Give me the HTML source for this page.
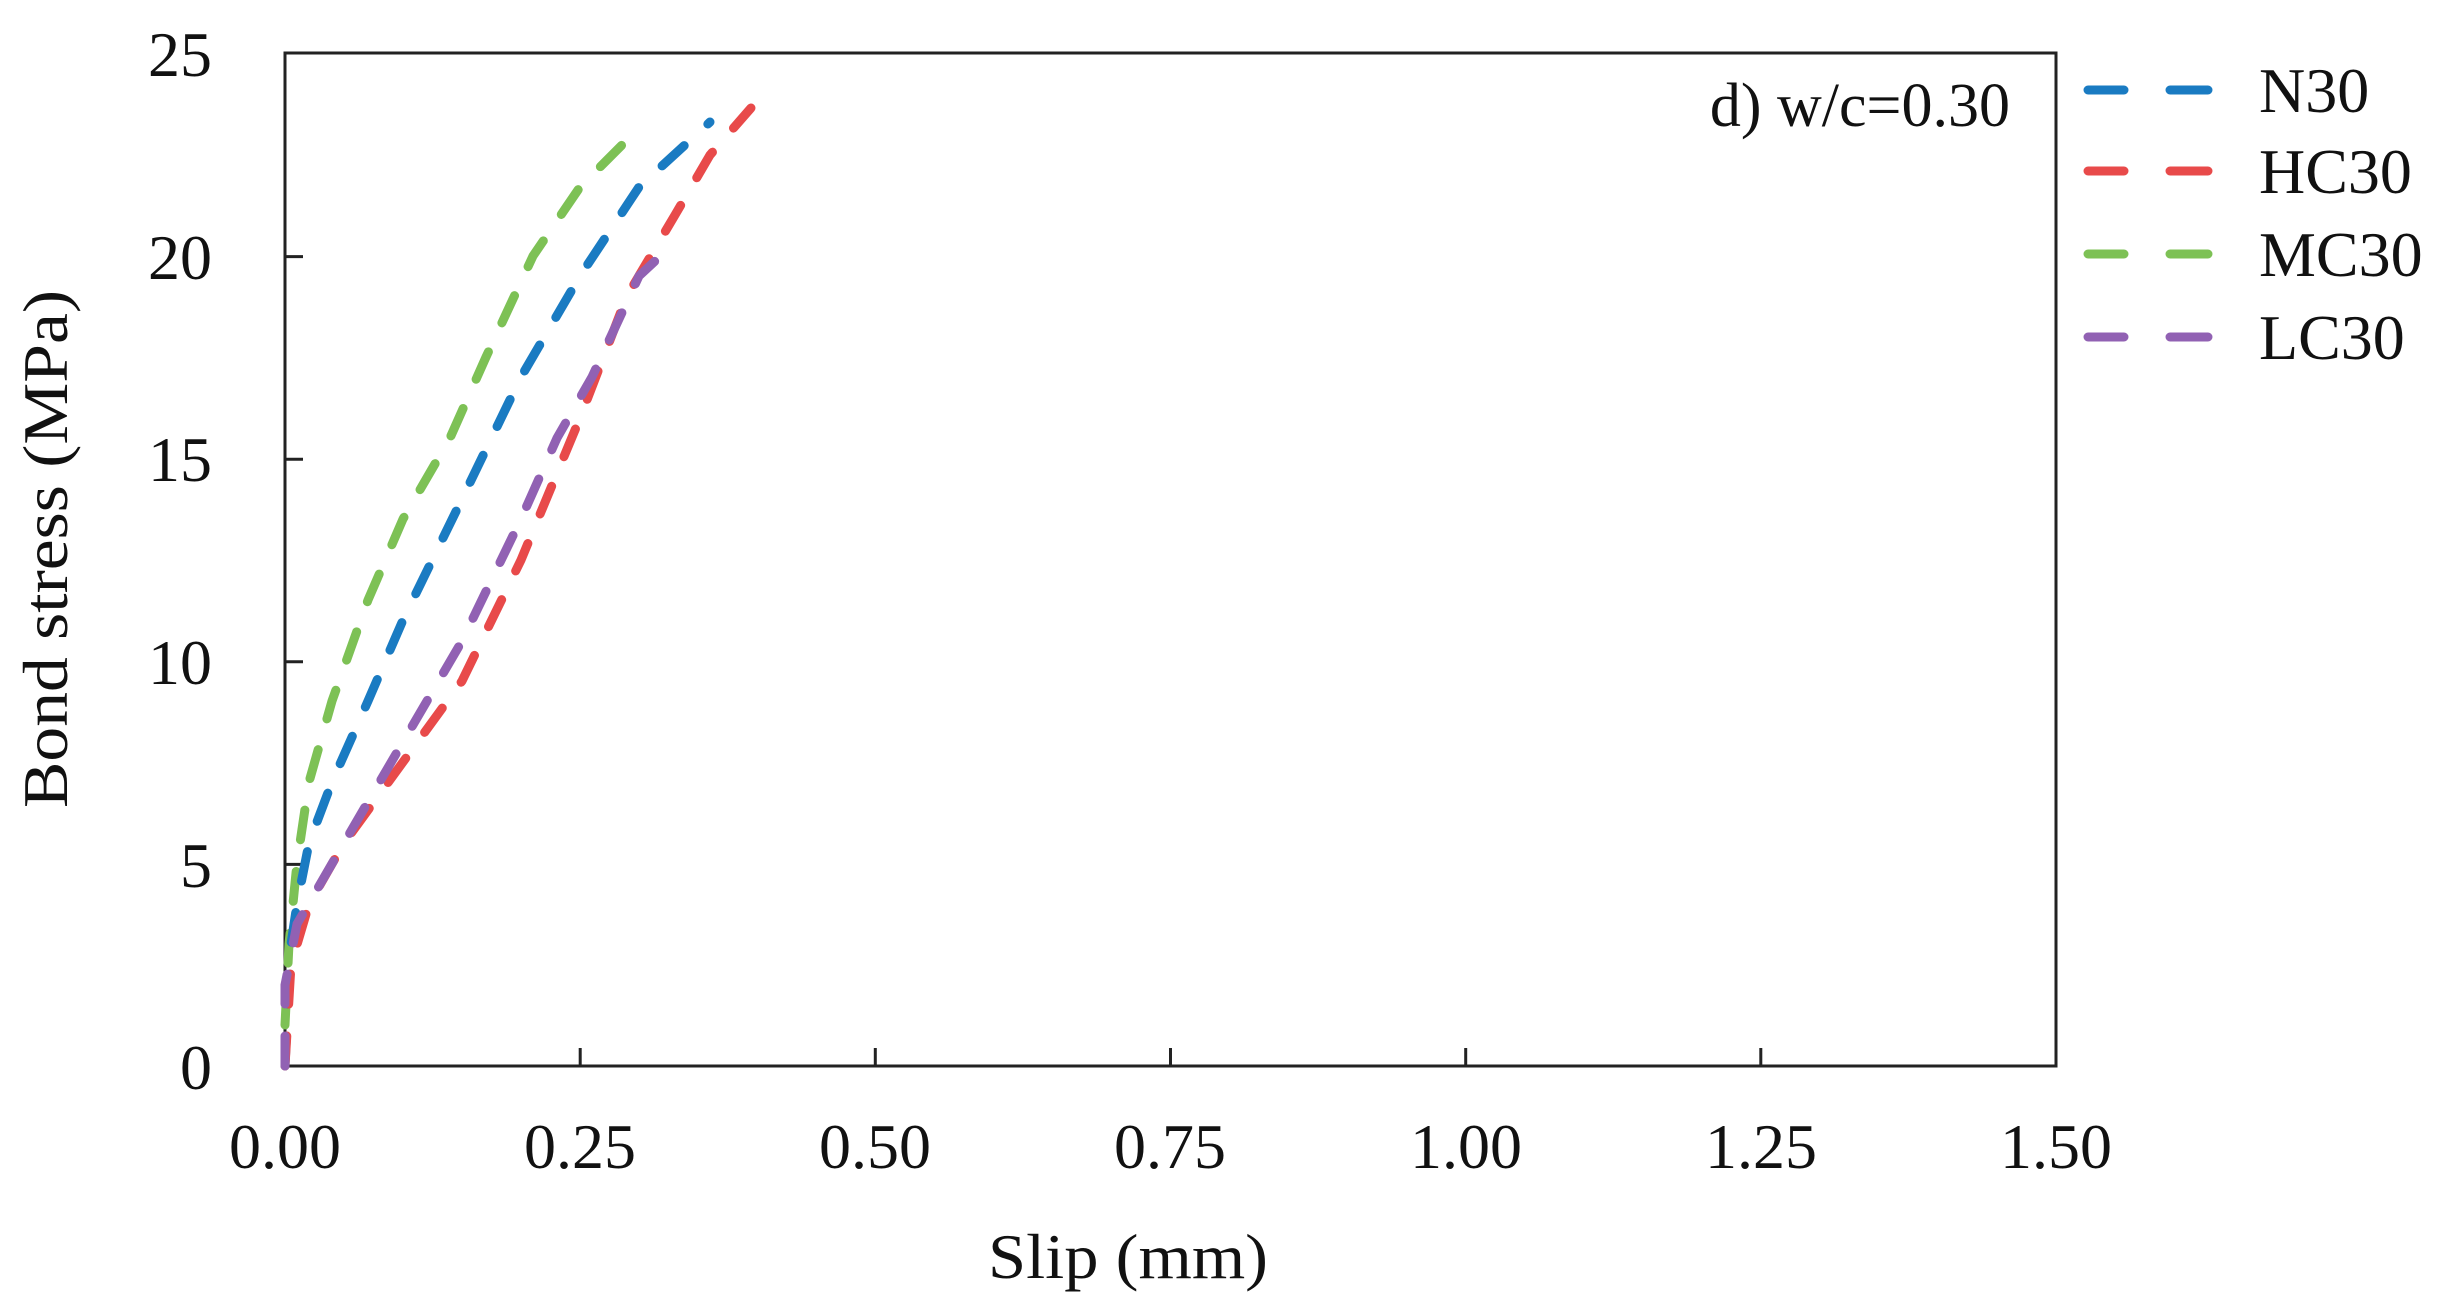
<!DOCTYPE html>
<html><head><meta charset="utf-8"><style>html,body{margin:0;padding:0;background:#fff}svg text{font-family:"Liberation Serif","Times New Roman",serif}</style></head>
<body>
<svg width="2443" height="1305" viewBox="0 0 2443 1305" xmlns="http://www.w3.org/2000/svg">
<rect width="2443" height="1305" fill="#fff"/>
<g stroke="#222" stroke-width="3" fill="none">
<rect x="285" y="53" width="1771" height="1013"/>
<path d="M285 256.6h18M285 459.2h18M285 661.8h18M285 864.4h18"/>
<path d="M580.2 1066v-18M875.3 1066v-18M1170.5 1066v-18M1465.7 1066v-18M1760.8 1066v-18"/>
</g>
<g font-size="64" fill="#111" text-anchor="end">
<text x="212" y="76">25</text><text x="212" y="279">20</text><text x="212" y="481">15</text>
<text x="212" y="684">10</text><text x="212" y="887">5</text><text x="212" y="1089">0</text>
</g>
<g font-size="64" fill="#111" text-anchor="middle">
<text x="285" y="1168">0.00</text><text x="580" y="1168">0.25</text><text x="875" y="1168">0.50</text>
<text x="1170" y="1168">0.75</text><text x="1466" y="1168">1.00</text><text x="1761" y="1168">1.25</text><text x="2056" y="1168">1.50</text>
<text x="1128" y="1278" textLength="280" lengthAdjust="spacingAndGlyphs">Slip (mm)</text>
<text transform="translate(67,549) rotate(-90)" textLength="518" lengthAdjust="spacingAndGlyphs">Bond stress (MPa)</text>
</g>
<text x="2010" y="126" font-size="62" fill="#111" text-anchor="end">d) w/c=0.30</text>
<g fill="none" stroke-width="9" stroke-linecap="round" stroke-dasharray="30 32">
<polyline stroke="#7dc155" points="285,1025 289,944 297,863 309,782 332,701 368,600 403,519 450,438 486,357 533,256 580,187 633,134"/>
<polyline stroke="#1a7bc2" points="285,1066 291,944 297,904 309,843 332,782 368,701 403,620 462,499 521,377 580,276 639,187 710,122"/>
<polyline stroke="#e84a4a" points="285,1066 291,965 309,904 344,843 403,762 462,681 521,560 580,418 627,296 675,215 710,155 751,108"/>
<polyline stroke="#9161b3" points="285,1066 285,985 297,924 344,843 403,742 462,641 521,519 557,438 592,377 639,276 669,248"/>
</g>
<g stroke-width="9" stroke-linecap="round">
<path d="M2088 90h36M2170 90h38" stroke="#1a7bc2"/>
<path d="M2088 171h36M2170 171h38" stroke="#e84a4a"/>
<path d="M2088 254h36M2170 254h38" stroke="#7dc155"/>
<path d="M2088 337h36M2170 337h38" stroke="#9161b3"/>
</g>
<g font-size="64" fill="#111">
<text x="2259" y="112">N30</text><text x="2259" y="193">HC30</text>
<text x="2259" y="276">MC30</text><text x="2259" y="359">LC30</text>
</g>
</svg>
</body></html>
